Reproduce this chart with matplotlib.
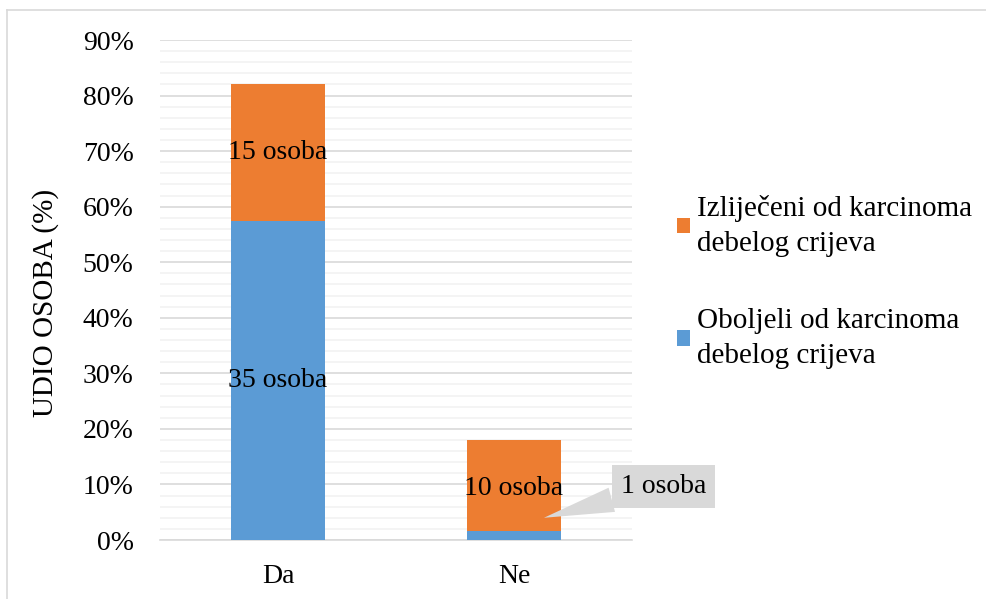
import matplotlib
matplotlib.use("Agg")
import matplotlib.pyplot as plt
from matplotlib.lines import Line2D
from matplotlib.patches import Rectangle
from matplotlib.legend_handler import HandlerPatch
import numpy as np

categories = ["Da", "Ne"]
oboljeli_pct = [57.4, 1.6]     # blue (bottom)
izlijeceni_pct = [24.6, 16.4]  # orange (top)
oboljeli_labels = ["35 osoba", "1 osoba"]
izlijeceni_labels = ["15 osoba", "10 osoba"]
series_names = ["Izliječeni od karcinoma\ndebelog crijeva", "Oboljeli od karcinoma\ndebelog crijeva"]
yticks = list(range(0, 91, 10))

BLUE = "#5b9bd5"
ORANGE = "#ed7d31"
FS = 20
LFS = 21
plt.rcParams["font.family"] = ["Liberation Serif", "DejaVu Serif"]

fig = plt.figure(figsize=(9.87, 5.99), dpi=100)
ax = fig.add_axes([160/987, 1-540/599, 472/987, 500/599])

x = np.arange(len(categories))
w = 0.4
b1 = ax.bar(x, oboljeli_pct, w, color=BLUE, label=series_names[1], zorder=3)
b2 = ax.bar(x, izlijeceni_pct, w, bottom=oboljeli_pct, color=ORANGE, label=series_names[0], zorder=3)

ax.set_xlim(-0.5, 1.5)
ax.set_ylim(0, 90)
ax.set_yticks(yticks)
ax.set_yticklabels([f"{t}%" for t in yticks])
ax.set_yticks(np.arange(0, 91, 2), minor=True)
ax.set_xticks(x)
ax.set_xticklabels(categories)
ax.tick_params(axis="both", which="both", length=0, labelsize=FS, colors="black")
ax.tick_params(axis="y", pad=19)
ax.tick_params(axis="x", pad=17)
ax.grid(axis="y", which="major", color="#d9d9d9", lw=1.2, zorder=0)
ax.grid(axis="y", which="minor", color="#f2f2f2", lw=1.2, zorder=0)
for s in ["top", "right", "left"]:
    ax.spines[s].set_visible(False)
ax.spines["bottom"].set_color("#d9d9d9")
ax.spines["bottom"].set_linewidth(1.2)
ax.set_ylabel("UDIO OSOBA (%)", fontsize=21)
ax.yaxis.set_label_coords(-0.215, 0.475)

# Labels
ax.text(0, oboljeli_pct[0] / 2, oboljeli_labels[0], ha="center", va="center", fontsize=FS, zorder=4)
ax.text(0, oboljeli_pct[0] + izlijeceni_pct[0] / 2, izlijeceni_labels[0], ha="center", va="center", fontsize=FS, zorder=4)
ax.text(1, oboljeli_pct[1] + izlijeceni_pct[1] / 2 - 0.5, izlijeceni_labels[1], ha="center", va="center", fontsize=FS, zorder=4)
ax.annotate(oboljeli_labels[1], xy=(1.127, 4.0), xytext=(1.633, 9.7),
            ha="center", va="center", fontsize=FS, zorder=5, annotation_clip=False,
            bbox=dict(boxstyle="square,pad=0.32", fc="#d9d9d9", ec="none"),
            arrowprops=dict(arrowstyle="wedge,tail_width=0.9,shrink_factor=0.5", fc="#d9d9d9", ec="none",
                            shrinkA=0, shrinkB=0))


def top_square(legend, orig_handle, xdescent, ydescent, width, height, fontsize):
    return Rectangle((-xdescent, -ydescent + 0.6 * fontsize), width, height)


handles = [b2, b1]
leg = fig.legend(handles, series_names, loc="center left", bbox_to_anchor=(677/987, 1-282/599),
                 frameon=False, fontsize=LFS, handlelength=0.45, handleheight=0.45, handletextpad=0.25,
                 labelspacing=1.75, borderpad=0, borderaxespad=0,
                 handler_map={type(b2.patches[0]): HandlerPatch(patch_func=top_square)})
for t in leg.get_texts():
    t.set_linespacing(1.45)

# outer border
fig.add_artist(Line2D([7/987, 986/987], [1-10/599, 1-10/599], color="#d9d9d9", lw=1.2))
fig.add_artist(Line2D([7/987, 7/987], [0, 1-10/599], color="#d9d9d9", lw=1.2))

fig.savefig("out.png", dpi=100)
